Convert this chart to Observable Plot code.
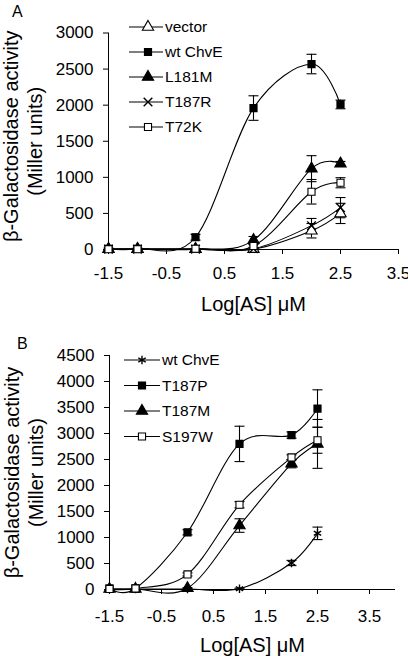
<!DOCTYPE html>
<html><head><meta charset="utf-8">
<script src="https://cdn.jsdelivr.net/npm/d3@7"></script>
<script src="https://cdn.jsdelivr.net/npm/@observablehq/plot@0.6"></script>
<style>
body{margin:0;background:#fff;font-family:"Liberation Sans",Arial,sans-serif;}
#wrap{position:relative;width:408px;height:656px;overflow:hidden;background:#fff;}
.panel{position:absolute;left:0;}
.legend{position:absolute;left:0;top:0;}
</style></head><body><div id="wrap"></div>
<script>
// ---- shared ----
const doses = [-1.5, -1, 0, 1, 2, 2.5];
const xTicks = [-1.5, -0.5, 0.5, 1.5, 2.5, 3.5];
const xTitle = "Log[AS] μM";
const yTitle1 = "β-Galactosidase activity";
const yTitle2 = "(Miller units)";

// ---- Panel A ----
const aLetter = "A";
const aSeries = ["vector", "wt ChvE", "L181M", "T187R", "T72K"];
const aSymbols = ["triangle", "square", "triangle", "times", "square"];
const aFilled = [false, true, true, true, false];
const aVector = [5, 5, 5, 5, 260, 500];
const aVectorErr = [0, 0, 0, 10, 100, 140];
const aWt = [10, 10, 170, 1960, 2570, 2010];
const aWtErr = [10, 10, 40, 170, 135, 60];
const aL181M = [5, 5, 5, 130, 1120, 1190];
const aL181MErr = [0, 0, 0, 50, 180, 30];
const aT187R = [5, 5, 5, 10, 330, 580];
const aT187RErr = [0, 0, 0, 10, 100, 140];
const aT72K = [5, 5, 10, 50, 800, 925];
const aT72KErr = [0, 0, 0, 20, 170, 70];
const aYTicks = [0, 500, 1000, 1500, 2000, 2500, 3000];
const aXDomain = [-1.5, 3.5];

// ---- Panel B ----
const bLetter = "B";
const bSeries = ["wt ChvE", "T187P", "T187M", "S197W"];
const bSymbols = ["asterisk", "square", "triangle", "square"];
const bFilled = [true, true, true, false];
const bWt = [10, 10, 10, 15, 510, 1080];
const bWtErr = [0, 0, 0, 10, 50, 120];
const bT187P = [20, 20, 1100, 2800, 2970, 3480];
const bT187PErr = [0, 0, 50, 340, 60, 360];
const bT187M = [10, 10, 25, 1230, 2420, 2800];
const bT187MErr = [0, 0, 10, 130, 80, 470];
const bS197W = [10, 20, 290, 1630, 2540, 2870];
const bS197WErr = [0, 0, 30, 60, 50, 250];
const bYTicks = [0, 500, 1000, 1500, 2000, 2500, 3000, 3500, 4000, 4500];
const bXDomain = [-1.5, 4];

const FONT = "'Liberation Sans', Arial, sans-serif";

function rows(names, values, errs) {
  const out = [];
  names.forEach((s, i) => doses.forEach((x, j) => out.push({series: s, x, y: values[i][j], err: errs[i][j]})));
  return out;
}
const capSymbol = {draw(ctx) { ctx.moveTo(-5, 0); ctx.lineTo(5, 0); }};
const symR = s => s === "triangle" ? 4.2 : 4;

function panel(data, names, symbols, filled, yTicks, xDomain, opts) {
  const errRows = data.filter(d => d.err > 0);
  const marks = [
    Plot.ruleY([0], {stroke: "black", strokeWidth: 1}),
    Plot.ruleX([xDomain[0]], {y1: yTicks[0], y2: yTicks[yTicks.length - 1], stroke: "black", strokeWidth: 1}),
    Plot.line(data, {x: "x", y: "y", z: "series", curve: "cardinal", tension: 0, stroke: "black", strokeWidth: 1.1}),
    Plot.ruleX(errRows, {x: "x", y1: d => d.y - d.err, y2: d => d.y + d.err, stroke: "black", strokeWidth: 1.1}),
    Plot.dot(errRows, {x: "x", y: d => d.y - d.err, symbol: capSymbol, stroke: "black", strokeWidth: 1.1}),
    Plot.dot(errRows, {x: "x", y: d => d.y + d.err, symbol: capSymbol, stroke: "black", strokeWidth: 1.1}),
  ];
  names.forEach((s, i) => {
    const sub = data.filter(d => d.series === s);
    const sym = symbols[i];
    const stroked = sym === "times" || sym === "asterisk";
    marks.push(Plot.dot(sub, {
      x: "x", y: "y", symbol: () => sym, r: symR(sym),
      fill: stroked ? "none" : (filled[i] ? "black" : "white"),
      stroke: "black", strokeWidth: stroked ? 1.4 : 1.1
    }));
  });
  marks.push(
    Plot.text([yTitle1], {frameAnchor: "left", textAnchor: "middle", lineAnchor: "middle", rotate: -90, dx: opts.t1dx, dy: opts.t1dy, fontSize: 20, fill: "black"}),
    Plot.text([yTitle2], {frameAnchor: "left", textAnchor: "middle", lineAnchor: "middle", rotate: -90, dx: opts.t2dx, fontSize: 20, fill: "black"}),
    Plot.text([xTitle], {frameAnchor: "bottom", textAnchor: "middle", lineAnchor: "middle", dy: opts.xdy, fontSize: 20, fill: "black"})
  );
  return Plot.plot({
    width: 408, height: opts.height,
    marginLeft: opts.ml, marginRight: opts.mr, marginTop: opts.mt, marginBottom: opts.mb,
    style: {fontFamily: FONT, fontSize: "17px", color: "black", background: "white", overflow: "visible"},
    x: {domain: xDomain, ticks: xTicks, tickSize: 5, tickPadding: opts.xpad, tickFormat: d => String(d), label: null},
    y: {domain: [yTicks[0], yTicks[yTicks.length - 1]], ticks: yTicks, tickSize: 5, tickPadding: 10, tickFormat: d => String(d), label: null},
    marks
  });
}

function legend(letter, names, symbols, filled, o) {
  const svg = d3.create("svg").attr("class", "legend").attr("width", 408).attr("height", o.h)
    .style("top", o.top + "px");
  svg.append("text").attr("x", o.lx).attr("y", o.ly).attr("font-family", FONT).attr("font-size", 16).attr("fill", "black").text(letter);
  names.forEach((s, i) => {
    const y = o.y0 + i * o.step;
    const g = svg.append("g");
    g.append("line").attr("x1", o.x1).attr("x2", o.x2).attr("y1", y).attr("y2", y).attr("stroke", "black").attr("stroke-width", 1.1);
    const sym = symbols[i];
    const type = {triangle: d3.symbolTriangle, square: d3.symbolSquare, times: d3.symbolTimes, asterisk: d3.symbolAsterisk}[sym];
    const r = symR(sym);
    const stroked = sym === "times" || sym === "asterisk";
    g.append("path").attr("d", d3.symbol(type, r * r * Math.PI)())
      .attr("transform", `translate(${o.xm},${y})`)
      .attr("fill", stroked ? "none" : (filled[i] ? "black" : "white"))
      .attr("stroke", "black").attr("stroke-width", stroked ? 1.4 : 1.1);
    g.append("text").attr("x", o.xt).attr("y", y).attr("dy", "0.35em")
      .attr("font-family", FONT).attr("font-size", 15.5).attr("fill", "black").text(s);
  });
  return svg.node();
}

const wrap = document.getElementById("wrap");
const dataA = rows(aSeries, [aVector, aWt, aL181M, aT187R, aT72K], [aVectorErr, aWtErr, aL181MErr, aT187RErr, aT72KErr]);
const dataB = rows(bSeries, [bWt, bT187P, bT187M, bS197W], [bWtErr, bT187PErr, bT187MErr, bS197WErr]);

const pA = panel(dataA, aSeries, aSymbols, aFilled, aYTicks, aXDomain,
  {height: 320, ml: 108, mr: 10, mt: 32.5, mb: 71, t1dx: -97, t1dy: -5, t2dx: -73, xdy: 55, xpad: 12});
pA.classList.add("panel"); pA.style.top = "0px";
wrap.appendChild(pA);

const pB = panel(dataB, bSeries, bSymbols, bFilled, bYTicks, bXDomain,
  {height: 336, ml: 109, mr: 13, mt: 35, mb: 67, t1dx: -97, t1dy: 0, t2dx: -73, xdy: 56, xpad: 15});
pB.classList.add("panel"); pB.style.top = "320px";
wrap.appendChild(pB);

wrap.appendChild(legend(aLetter, aSeries, aSymbols, aFilled, {top: 0, h: 150, lx: 12, ly: 17, y0: 27, step: 25, x1: 129, x2: 163, xm: 148, xt: 165}));
wrap.appendChild(legend(bLetter, bSeries, bSymbols, bFilled, {top: 320, h: 140, lx: 17, ly: 29, y0: 40, step: 25.5, x1: 124, x2: 160, xm: 142, xt: 162}));
</script></body></html>
